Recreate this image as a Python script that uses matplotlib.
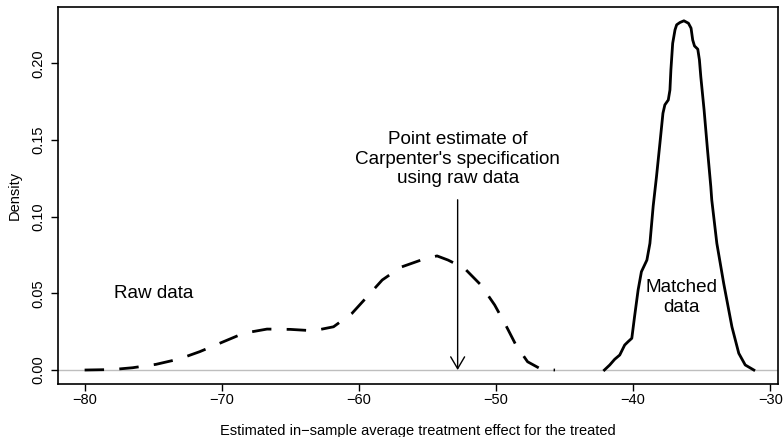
import matplotlib
matplotlib.use("Agg")
import matplotlib.pyplot as plt

plt.rcParams['font.family'] = ['Liberation Sans', 'DejaVu Sans']

# density of the estimate, raw data (dashed)
raw_x = [-80.0, -78.0, -76.5, -74.8, -73.1, -71.6, -70.0, -68.4, -66.7, -65.0,
         -63.3, -61.85, -60.5, -59.4, -58.3, -56.96, -55.25, -54.3, -53.5, -52.3,
         -51.1, -50.1, -49.3, -48.55, -47.7, -46.7, -45.7]
raw_y = [0.0, 0.0003, 0.0015, 0.0037, 0.0072, 0.012, 0.018, 0.024, 0.0267, 0.0265,
         0.0256, 0.0282, 0.037, 0.0478, 0.0587, 0.067, 0.0724, 0.0744, 0.0717, 0.0663,
         0.0554, 0.0424, 0.0294, 0.0163, 0.0054, 0.0005, 0.0]

# density of the estimate, matched data (solid)
matched_x = [-42.1, -41.71, -41.35, -40.98, -40.62, -40.37, -40.1, -39.9, -39.64, -39.4,
             -39.0, -38.78, -38.54, -38.3, -38.05, -37.83, -37.69, -37.44, -37.32, -37.25,
             -37.12, -36.95, -36.83, -36.59, -36.3, -35.97, -35.78, -35.66, -35.53, -35.29,
             -35.17, -35.07, -34.83, -34.58, -34.34, -34.27, -33.9, -33.4, -32.8, -32.3,
             -31.83, -31.2]
matched_y = [0.0, 0.0033, 0.007, 0.0098, 0.0163, 0.0185, 0.0207, 0.0348, 0.0522, 0.0641,
             0.0717, 0.0826, 0.107, 0.1261, 0.1479, 0.1674, 0.1729, 0.1761, 0.1826, 0.1957,
             0.213, 0.2218, 0.2251, 0.2266, 0.2277, 0.2261, 0.2229, 0.2152, 0.2113, 0.2092,
             0.2022, 0.1913, 0.1696, 0.1435, 0.1196, 0.1109, 0.0826, 0.0565, 0.0282, 0.0109,
             0.0033, 0.0]

point_estimate = -52.8
xticks = [-80, -70, -60, -50, -40, -30]
yticks = [0.00, 0.05, 0.10, 0.15, 0.20]

fig = plt.figure(figsize=(7.84, 4.37), dpi=100)
ax = fig.add_axes([0.074, 0.1213, 0.918, 0.8627])

ax.axhline(0, color='#bebebe', lw=1, zorder=1)
ax.plot(raw_x, raw_y, color='black', lw=2, dashes=(7, 5.5), zorder=3)
ax.plot(matched_x, matched_y, color='black', lw=2, solid_joinstyle='round', zorder=3)

ax.annotate('', xy=(point_estimate, 0), xytext=(point_estimate, 0.111),
            arrowprops=dict(arrowstyle='->, head_length=0.85, head_width=0.5',
                            color='black', lw=1, shrinkA=0, shrinkB=0))
ax.text(point_estimate, 0.1375,
        "Point estimate of\nCarpenter's specification\nusing raw data",
        ha='center', va='center', fontsize=13.6, linespacing=1.17)
ax.text(-75.0, 0.05, 'Raw data', ha='center', va='center', fontsize=13.6)
ax.text(-36.5, 0.0473, 'Matched\ndata', ha='center', va='center', fontsize=13.6,
        linespacing=1.2)

ax.set_xlim(-81.94, -29.46)
ax.set_ylim(-0.0091, 0.2367)
ax.set_xticks(xticks)
ax.set_xticklabels([str(t).replace('-', '\u2212') for t in xticks])
ax.set_yticks(yticks)
ax.set_yticklabels(['%.2f' % t for t in yticks], rotation=90, va='center')
ax.tick_params(direction='out', length=5, width=1, labelsize=10.5)
ax.tick_params(axis='x', pad=1.5)
ax.tick_params(axis='y', pad=4)
for s in ax.spines.values():
    s.set_linewidth(1.2)

ax.set_xlabel('Estimated in\u2212sample average treatment effect for the treated',
              fontsize=10.5, labelpad=12.5)
ax.set_ylabel('Density', fontsize=10.5, labelpad=7)

fig.savefig('out.png', dpi=100)
